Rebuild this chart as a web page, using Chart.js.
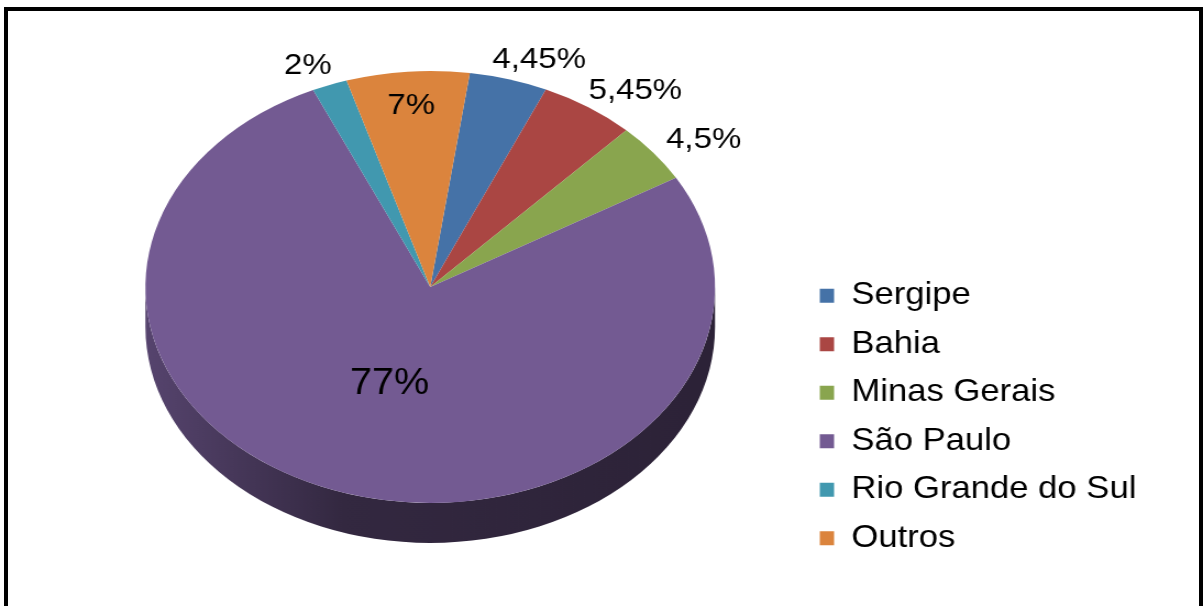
<!DOCTYPE html>
<html lang="pt-BR">
<head>
<meta charset="utf-8">
<title>Participação por estado</title>
<script src="https://cdn.jsdelivr.net/npm/chart.js@4.4.0/dist/chart.umd.min.js"></script>
<style>
  html, body { margin: 0; padding: 0; background: #fff; overflow: hidden; }
  #chart { position: absolute; left: 0; top: 0; }
  #frame {
    position: absolute; left: 4px; top: 7px; width: 1199px; height: 700px;
    box-sizing: border-box; border: 4px solid #000;
  }
</style>
</head>
<body>
<!-- drawn at 1094 wide and stretched to 1203, like the source picture -->
<canvas id="chart" width="1094" height="606" style="width: 1203px; height: 606px;"></canvas>
<div id="frame"></div>
<script>
const estados = ['Sergipe', 'Bahia', 'Minas Gerais', 'São Paulo', 'Rio Grande do Sul', 'Outros'];
const percentuais = [4.45, 5.45, 4.5, 77, 2, 7];
const cores = ['#4572a7', '#aa4643', '#89a54e', '#735a92', '#4198af', '#db843d'];

const FONT = '"Liberation Sans", Arial, sans-serif';
const TILT = 0.834;   // vertical squash of the disc (ry / rx)
const DEPTH = 40;     // thickness of the disc

function shade(hex, f) {
    const n = parseInt(hex.slice(1), 16);
    const r = Math.round(((n >> 16) & 255) * f);
    const g = Math.round(((n >> 8) & 255) * f);
    const b = Math.round((n & 255) * f);
    return `rgb(${r}, ${g}, ${b})`;
}

function formatPct(v) {
    return String(v).replace('.', ',') + '%';
}

// fakes the Excel 3D pie: squashes the arcs and draws the front wall
const pie3d = {
    id: 'pie3d',
    beforeDatasetsDraw(chart) {
        const ctx = chart.ctx;
        const arcs = chart.getDatasetMeta(0).data;
        if (!arcs.length) return;
        const { x, y, outerRadius: r } = arcs[0];
        const ry = r * TILT;

        arcs.forEach((arc, i) => {
            const grad = ctx.createLinearGradient(x - r, 0, x + r, 0);
            grad.addColorStop(0, shade(cores[i], 0.75));
            grad.addColorStop(0.35, shade(cores[i], 0.44));
            grad.addColorStop(1, shade(cores[i], 0.38));
            // only the half facing the viewer is visible
            [0, 2 * Math.PI].forEach(k => {
                const lo = Math.max(arc.startAngle, k);
                const hi = Math.min(arc.endAngle, k + Math.PI);
                if (hi <= lo) return;
                ctx.beginPath();
                ctx.ellipse(x, y, r, ry, 0, lo, hi);
                ctx.ellipse(x, y + DEPTH, r, ry, 0, hi, lo, true);
                ctx.closePath();
                ctx.fillStyle = grad;
                ctx.fill();
            });
        });

        ctx.save();
        ctx.translate(x, y);
        ctx.scale(1, TILT);
        ctx.translate(-x, -y);
    },
    afterDatasetsDraw(chart) {
        const ctx = chart.ctx;
        ctx.restore();

        const arcs = chart.getDatasetMeta(0).data;
        if (!arcs.length) return;
        const { x, y, outerRadius: r } = arcs[0];
        const ry = r * TILT;

        ctx.save();
        ctx.fillStyle = '#000';
        ctx.textAlign = 'center';
        ctx.textBaseline = 'middle';
        arcs.forEach((arc, i) => {
            const v = percentuais[i];
            const text = formatPct(v);
            const mid = (arc.startAngle + arc.endAngle) / 2;
            const c = Math.cos(mid);
            const s = Math.sin(mid);
            let lx, ly;
            if (v >= 6) {
                // wide slices keep the label inside
                const f = v > 50 ? 0.47 : 0.84;
                ctx.font = `${v > 50 ? 36 : 30}px ${FONT}`;
                lx = x + c * r * f;
                ly = y + s * ry * f;
            } else {
                ctx.font = `30px ${FONT}`;
                const w = ctx.measureText(text).width;
                lx = x + c * r * 1.03 + Math.sign(c) * Math.sqrt(Math.abs(c)) * w / 2 + c * 12;
                ly = y + s * ry * 1.03 + s * 14;
            }
            ctx.fillText(text, lx, ly);
        });
        ctx.restore();
    }
};

new Chart(document.getElementById('chart'), {
    type: 'pie',
    data: {
        labels: estados,
        datasets: [{
            data: percentuais,
            backgroundColor: cores,
            borderWidth: 0
        }]
    },
    options: {
        responsive: false,
        animation: false,
        events: [],
        rotation: 8,
        radius: 259,
        layout: {
            padding: { left: 54, right: 50.6, top: 3, bottom: 35 }
        },
        plugins: {
            tooltip: { enabled: false },
            legend: {
                position: 'right',
                align: 'end',
                labels: {
                    boxWidth: 13,
                    boxHeight: 14,
                    padding: 17,
                    color: '#000',
                    font: { family: FONT, size: 31.5 }
                }
            }
        }
    },
    plugins: [pie3d]
});
</script>
</body>
</html>
